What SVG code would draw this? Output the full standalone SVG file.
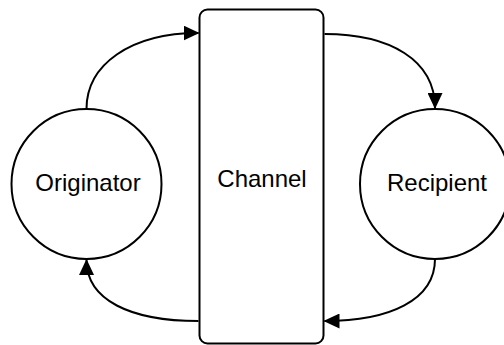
<svg xmlns="http://www.w3.org/2000/svg" width="504" height="345" viewBox="0 0 504 345">
  <style>
    .shape { fill: #ffffff; stroke: #000000; stroke-width: 2; }
    .edge { fill: none; stroke: #000000; stroke-width: 2; marker-end: url(#arrow); }
    .label { font-family: "Liberation Sans", Arial, Helvetica, sans-serif; font-size: 24px; fill: #000000; text-anchor: middle; }
  </style>
  <defs>
    <marker id="arrow" markerUnits="userSpaceOnUse" viewBox="0 0 16 15" refX="15" refY="7.5" markerWidth="16" markerHeight="15" orient="auto">
      <path d="M0,0 L16,7.5 L0,15 Z" fill="#000000"/>
    </marker>
  </defs>

  <g id="channel">
    <rect class="shape" x="199.5" y="9.5" width="124" height="334" rx="8" ry="8"/>
    <text class="label" x="262" y="186.5">Channel</text>
  </g>

  <g id="originator">
    <circle class="shape" cx="86.5" cy="184" r="75"/>
    <text class="label" x="88" y="190.5">Originator</text>
  </g>

  <g id="recipient">
    <circle class="shape" cx="435" cy="184" r="75"/>
    <text class="label" x="437" y="190.5">Recipient</text>
  </g>

  <g id="connectors">
    <path class="edge" d="M86.5,109 C86.5,65 130,33 198.5,33"/>
    <path class="edge" d="M324.5,34 C390,34 435,60 435,108"/>
    <path class="edge" d="M435,259 C435,300 390,321 324.5,321"/>
    <path class="edge" d="M198.5,321 C130,321 86.5,300 86.5,260"/>
  </g>
</svg>
